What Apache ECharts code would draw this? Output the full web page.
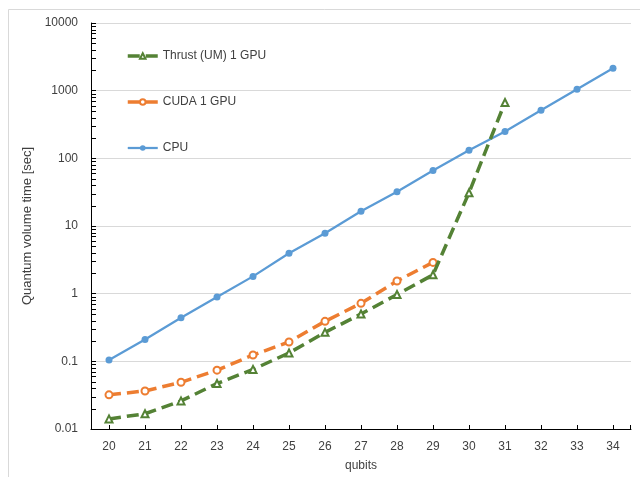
<!DOCTYPE html>
<html>
<head>
<meta charset="utf-8">
<script src="https://cdn.jsdelivr.net/npm/echarts@6/dist/echarts.min.js"></script>
<style>html,body{margin:0;padding:0;background:#fff}#c{width:640px;height:477px}</style>
</head>
<body>
<div id="c"></div>
<script>
const categories = ['20','21','22','23','24','25','26','27','28','29','30','31','32','33','34'];
const cpu = [0.105, 0.21, 0.44, 0.89, 1.8, 3.95, 7.8, 16.5, 32, 66, 132, 250, 515, 1050, 2150];
const cuda = [0.032, 0.0365, 0.049, 0.074, 0.124, 0.193, 0.39, 0.72, 1.54, 2.9, null, null, null, null, null];
const thrust = [0.0141, 0.0168, 0.026, 0.047, 0.076, 0.133, 0.268, 0.5, 0.97, 1.9, 31, 670, null, null, null];
const yTicks = [0.01, 0.1, 1, 10, 100, 1000, 10000];

const chart = echarts.init(document.getElementById('c'), null, {renderer: 'canvas'});
const font = 'Liberation Sans, Arial, sans-serif';
chart.setOption({
  backgroundColor: '#fff',
  animation: false,
  grid: {left: 91, right: 9, top: 23, bottom: 47, containLabel: false},
  legend: {
    orient: 'vertical', left: 121, top: 45,
    itemWidth: 30, itemHeight: 7, itemGap: 34,
    data: [
      {name: 'Thrust (UM) 1 GPU', lineStyle: {width: 3.5}},
      {name: 'CUDA 1 GPU', lineStyle: {width: 3.5}},
      {name: 'CPU', lineStyle: {width: 2.25}}
    ],
    textStyle: {fontFamily: font, fontSize: 12, color: '#404040'}
  },
  xAxis: {
    type: 'category', data: categories, boundaryGap: true,
    name: 'qubits', nameLocation: 'middle', nameGap: 31,
    nameTextStyle: {fontFamily: font, fontSize: 12, color: '#404040'},
    axisLine: {lineStyle: {color: '#000', width: 1}},
    axisTick: {show: true, inside: true, alignWithLabel: true, length: 4, lineStyle: {color: '#000', width: 1}},
    axisLabel: {fontFamily: font, fontSize: 12, color: '#404040', margin: 12},
    splitLine: {show: false}
  },
  yAxis: {
    type: 'log', logBase: 10, min: yTicks[0], max: yTicks[yTicks.length - 1],
    name: 'Quantum volume time [sec]', nameLocation: 'middle', nameGap: 51,
    nameTextStyle: {fontFamily: font, fontSize: 13, color: '#404040'},
    axisLine: {show: true, lineStyle: {color: '#000', width: 1}},
    axisTick: {show: true, inside: true, length: 5, lineStyle: {color: '#000', width: 1}},
    axisLabel: {fontFamily: font, fontSize: 12, color: '#404040', margin: 13,
      formatter: v => String(v)},
    splitLine: {show: true, lineStyle: {color: '#d9d9d9', width: 1}}
  },
  series: [
    {
      name: 'CPU', type: 'line', data: cpu, z: 2,
      symbol: 'circle', symbolSize: 7, showSymbol: true,
      itemStyle: {color: '#5b9bd5'},
      lineStyle: {color: '#5b9bd5', width: 2.25}
    },
    {
      name: 'CUDA 1 GPU', type: 'line', data: cuda, z: 3,
      symbol: 'emptyCircle', symbolSize: 7,
      itemStyle: {color: '#ed7d31', borderColor: '#ed7d31', borderWidth: 1},
      lineStyle: {color: '#ed7d31', width: 3.5, type: [12, 6]}
    },
    {
      name: 'Thrust (UM) 1 GPU', type: 'line', data: thrust, z: 4,
      symbol: 'emptyTriangle', symbolSize: 7,
      itemStyle: {color: '#548235', borderColor: '#548235', borderWidth: 1},
      lineStyle: {color: '#548235', width: 3.5, type: [12, 6]}
    }
  ]
});

// minor tick marks, placed through the library's own coordinate conversion
function px(v) { return chart.convertToPixel({gridIndex: 0}, v); }
const children = [{
  type: 'rect', shape: {x: 8.5, y: 9.5, width: 700, height: 500},
  style: {fill: 'none', stroke: '#d9d9d9', lineWidth: 1}, z: -10
}];
const pBL = px([0, yTicks[0]]);
const pTR = px([categories.length - 1, yTicks[yTicks.length - 1]]);
const half = (pTR[0] - pBL[0]) / (categories.length - 1) / 2;
const axX = Math.round(pBL[0] - half);
const axY = Math.round(pBL[1]);
const box = (x, y, w, h) => children.push({type: 'rect',
  shape: {x: x, y: y, width: w, height: h}, style: {fill: '#000'}});
for (let i = 0; i < yTicks.length - 1; i++) {
  for (let k = 2; k <= 9; k++) {
    const pm = Math.round(px([0, yTicks[i] * k])[1]);
    box(axX + 1, pm, 4, 1);
  }
}
const xEnd = Math.round(pTR[0] + half) - 1;
box(xEnd, axY - 4, 1, 4);
chart.setOption({graphic: {elements: children}});
</script>
</body>
</html>
